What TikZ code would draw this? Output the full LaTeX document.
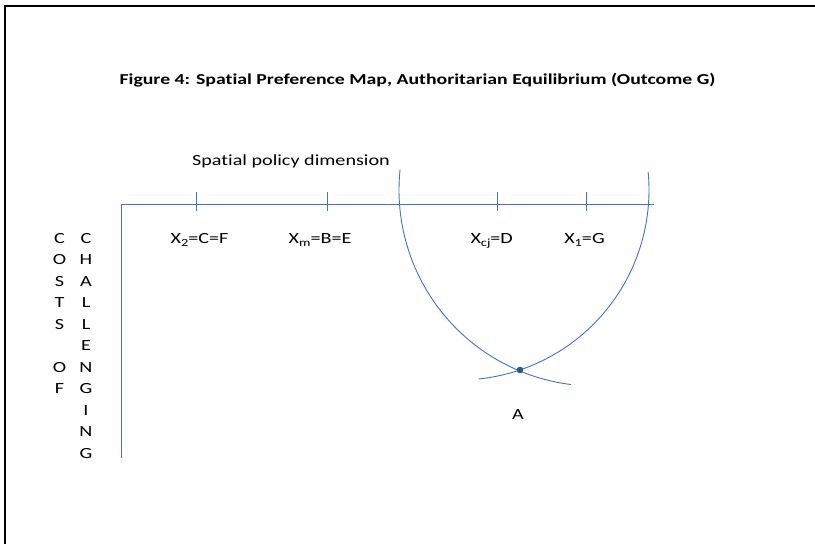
\documentclass[tikz,border=0pt]{standalone}
\usepackage{fontspec}
\setmainfont[FakeStretch=1.3,Ligatures={NoCommon}]{Carlito}
\definecolor{axisblue}{HTML}{4472C4}
\definecolor{dotblue}{HTML}{2F5597}
\newcommand{\lowsub}[1]{\raisebox{-3.5pt}{\fontsize{11}{12}\selectfont #1}}
\begin{document}
\begin{tikzpicture}[x=1pt,y=-1pt,
  lbl/.style={inner sep=0pt,anchor=base,font=\fontsize{15.5}{18}\selectfont},
  ttl/.style={inner sep=0pt,anchor=base,font=\fontsize{15.2}{18}\selectfont\bfseries},
  axisline/.style={draw=axisblue,line width=1pt},
  curve/.style={draw=axisblue,line width=0.9pt},
  frame/.style={draw=black,line width=2pt}]
\useasboundingbox (0,0) rectangle (815,544);
% frame
\coordinate (fl) at (5,544);
\coordinate (fc) at (5,5.5);
\coordinate (fr) at (815,5.5);
\draw[frame] (fl) -- (fc) -- (fr);
% title
\node[ttl] (title) at (417.5,84) {Figure 4: Spatial Preference Map, Authoritarian Equilibrium (Outcome G)};
\node[lbl] (dim) at (291,165) {Spatial policy dimension};
% axes
\coordinate (o) at (121,204.5);
\coordinate (xe) at (654,204.5);
\coordinate (ye) at (121,458);
\draw[axisline] (xe) -- (o) -- (ye);
% ticks
\foreach \n/\x in {t1/196.5,t2/327,t3/497,t4/586.5}{
  \coordinate (\n a) at (\x,192);
  \coordinate (\n b) at (\x,211);
  \draw[axisline] (\n a) -- (\n b);
}
% tick labels
\node[lbl] (l1) at (199.5,243) {X\lowsub{2}=C=F};
\node[lbl] (l2) at (320,243) {X\lowsub{m}=B=E};
\node[lbl] (l3) at (491.7,243) {X\lowsub{cj}=D};
\node[lbl] (l4) at (584.5,243) {X\lowsub{1}=G};
% vertical axis label
\foreach \i/\ch in {0/C,1/O,2/S,3/T,4/S,6/O,7/F}{
  \node[lbl] (c\i) at (59.5,{243+21.5*\i}) {\ch};
}
\foreach \i/\ch in {0/C,1/H,2/A,3/L,4/L,5/E,6/N,7/G,8/I,9/N,10/G}{
  \node[lbl] (h\i) at (86,{243+21.5*\i}) {\ch};
}
% indifference curves
\draw[curve] plot[domain=97:186,samples=80,smooth] ({595+196*cos(\x)},{190+196*sin(\x)});
\draw[curve] plot[domain=-5.5:84,samples=80,smooth] ({459+190*cos(\x)},{190+190*sin(\x)});
% equilibrium point
\fill[dotblue] (520,370) circle (3.3);
\node[lbl] (a) at (518,419) {A};
\end{tikzpicture}
\end{document}
